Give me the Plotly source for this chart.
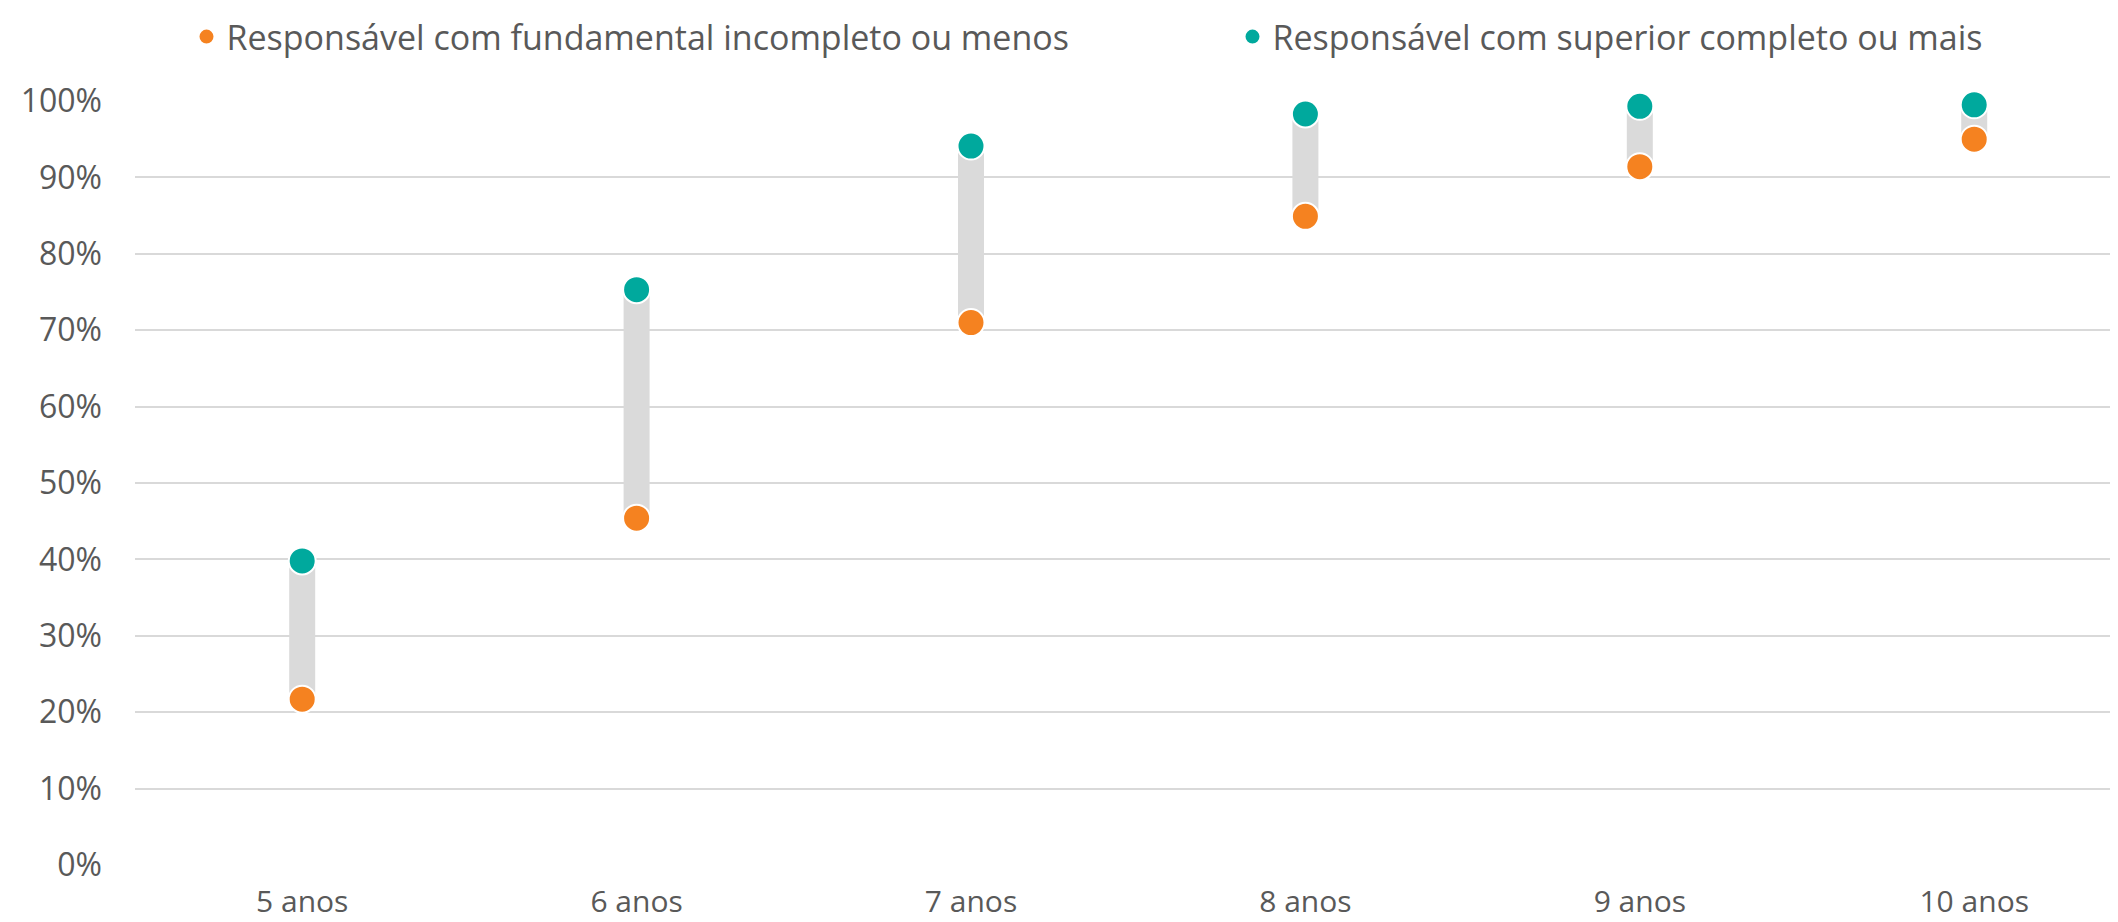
import plotly.graph_objects as go

categories = ["5 anos", "6 anos", "7 anos", "8 anos", "9 anos", "10 anos"]
fundamental = [21.7, 45.4, 71.0, 84.9, 91.4, 95.0]
superior = [39.8, 75.3, 94.1, 98.3, 99.3, 99.5]
name_fund = "Responsável com fundamental incompleto ou menos"
name_sup = "Responsável com superior completo ou mais"
y_ticks = [0, 10, 20, 30, 40, 50, 60, 70, 80, 90, 100]
y_tick_labels = [f"{v}%" for v in y_ticks]

ORANGE = "#F58220"
TEAL = "#00A99D"
GRAY = "#DADADA"
TEXT = "#595959"
FONT = "Open Sans"

# connector segments
cx, cy = [], []
for c, lo, hi in zip(categories, fundamental, superior):
    cx += [c, c, None]
    cy += [lo, hi, None]

fig = go.Figure()
fig.add_trace(go.Scatter(x=cx, y=cy, mode="lines", line=dict(color=GRAY, width=26),
                         showlegend=False, hoverinfo="skip", cliponaxis=False))
fig.add_trace(go.Scatter(x=categories, y=fundamental, mode="markers", name=name_fund,
                         marker=dict(color=ORANGE, size=27, line=dict(color="white", width=2)),
                         cliponaxis=False, legend="legend"))
fig.add_trace(go.Scatter(x=categories, y=superior, mode="markers", name=name_sup,
                         marker=dict(color=TEAL, size=27, line=dict(color="white", width=2)),
                         cliponaxis=False, legend="legend2"))

H = 914
legend_common = dict(orientation="h", xref="container", xanchor="left",
                     yref="container", yanchor="top", y=1.0,
                     font=dict(size=34, color=TEXT), itemsizing="trace",
                     bgcolor="rgba(0,0,0,0)", borderwidth=0)

fig.update_layout(
    width=2110, height=H,
    margin=dict(l=127, r=0, t=93, b=57, autoexpand=False),
    plot_bgcolor="white", paper_bgcolor="white",
    font=dict(family=FONT, size=30, color=TEXT),
    legend=dict(x=178.5 / 2110, **legend_common),
    legend2=dict(x=1224.5 / 2110, **legend_common),
    xaxis=dict(type="category", categoryorder="array", categoryarray=categories,
               showgrid=False, showline=False, ticks="", tickfont=dict(size=30, color=TEXT),
               range=[-0.5, 5.43], automargin=False,
               ticklabelstandoff=16),
    yaxis=dict(range=[0, 100], tickvals=y_ticks, ticktext=y_tick_labels, showgrid=True,
               gridcolor="#D9D9D9", gridwidth=2, zeroline=False, showline=False,
               ticks="", ticklabelstandoff=32, tickfont=dict(size=32, color=TEXT),
               automargin=False),
)
fig.write_html("out.html")
